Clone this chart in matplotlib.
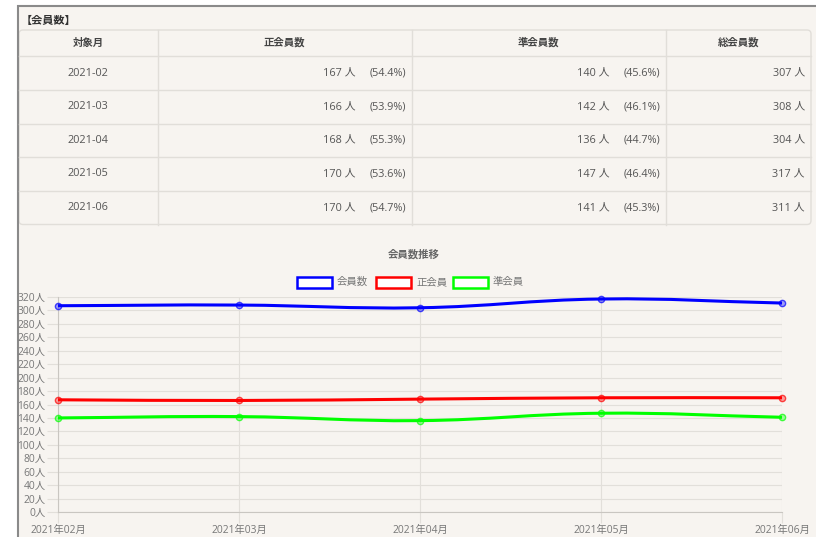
import numpy as np
import matplotlib
matplotlib.use("Agg")
import matplotlib.pyplot as plt
from matplotlib.patches import Rectangle, FancyBboxPatch, PathPatch
from matplotlib.path import Path

plt.rcParams['font.family'] = ['Open Sans', 'Noto Sans CJK JP', 'DejaVu Sans']

# ---- data ----
months = ["2021-02", "2021-03", "2021-04", "2021-05", "2021-06"]
regular = [167, 166, 168, 170, 170]
regular_pct = [54.4, 53.9, 55.3, 53.6, 54.7]
associate = [140, 142, 136, 147, 141]
associate_pct = [45.6, 46.1, 44.7, 46.4, 45.3]
total = [307, 308, 304, 317, 311]

headers = ["対象月", "正会員数", "準会員数", "総会員数"]
series_names = ["会員数", "正会員", "準会員"]
series_colors = ["#0000ff", "#ff0000", "#00ff00"]
y_ticks = list(range(0, 321, 20))

PANEL = "#f7f4f0"
LINE = "#e1ded9"
W, H = 816, 537


def smooth_path(ax, xs, ys, tension=0.4):
    # chart.js style bezier spline, computed in pixel space
    pts = ax.transData.transform(np.column_stack([xs, ys]))
    n = len(pts)
    cin, cout = [], []
    for i in range(n):
        p0 = pts[max(i - 1, 0)]
        p1 = pts[i]
        p2 = pts[min(i + 1, n - 1)]
        d01 = np.hypot(*(p1 - p0))
        d12 = np.hypot(*(p2 - p1))
        s01 = d01 / (d01 + d12)
        s12 = d12 / (d01 + d12)
        cin.append(p1 - tension * s01 * (p2 - p0))
        cout.append(p1 + tension * s12 * (p2 - p0))
    verts = [pts[0]]
    codes = [Path.MOVETO]
    for i in range(n - 1):
        verts += [cout[i], cin[i + 1], pts[i + 1]]
        codes += [Path.CURVE4] * 3
    inv = ax.transData.inverted()
    return Path(inv.transform(np.array(verts)), codes)


fig = plt.figure(figsize=(W / 100, H / 100), dpi=100)
fig.patch.set_facecolor("white")

bg = fig.add_axes([0, 0, 1, 1])
bg.set_xlim(0, W)
bg.set_ylim(H, 0)
bg.axis("off")

# panel
bg.add_patch(Rectangle((17, 5), W - 17, H - 5, fc=PANEL, ec="none"))
bg.plot([17.5, 17.5], [5, H], color="#8a8a8a", lw=1.5, solid_capstyle="butt")
bg.plot([17, W], [5.5, 5.5], color="#8a8a8a", lw=1.5, solid_capstyle="butt")

bg.text(21, 21, "【会員数】", fontsize=8, fontweight="bold", color="#333333",
        ha="left", va="center")

# table
row_edges = [30, 56, 90, 123.5, 157, 191, 224.5]
col_edges = [19, 157.5, 411.5, 665.5, 811]
bg.add_patch(FancyBboxPatch((col_edges[0], row_edges[0]),
                            col_edges[-1] - col_edges[0], row_edges[-1] - row_edges[0],
                            boxstyle="round,pad=0,rounding_size=4",
                            fc="none", ec=LINE, lw=1.0))
for y in row_edges[1:-1]:
    bg.plot([col_edges[0], col_edges[-1]], [y, y], color=LINE, lw=1.0)
for x in col_edges[1:-1]:
    bg.plot([x, x], [row_edges[0], row_edges[-1]], color=LINE, lw=1.0)

hy = (row_edges[0] + row_edges[1]) / 2
for j, h in enumerate(headers):
    cx = (col_edges[j] + col_edges[j + 1]) / 2
    bg.text(cx, hy, h, fontsize=7.5, fontweight="bold", color="#444444",
            ha="center", va="center")

txt = dict(fontsize=7.8, color="#555555", va="center")
for i, m in enumerate(months):
    cy = (row_edges[i + 1] + row_edges[i + 2]) / 2
    bg.text((col_edges[0] + col_edges[1]) / 2, cy, m, ha="center", **txt)
    for j, (cnt, pct) in enumerate([(regular[i], regular_pct[i]),
                                    (associate[i], associate_pct[i])]):
        xr = col_edges[j + 2]
        bg.text(xr - 56, cy, f"{cnt} 人", ha="right", **txt)
        bg.text(xr - 5, cy, f"({pct:.1f}%)", ha="right", **txt)
    bg.text(col_edges[4] - 6, cy, f"{total[i]} 人", ha="right", **txt)

# chart title + legend
bg.text(414, 255, "会員数推移", fontsize=7.5, fontweight="bold", color="#666666",
        ha="center", va="center")
legend_x = [297, 376, 453]
for lx, name, c in zip(legend_x, series_names, series_colors):
    bg.add_patch(Rectangle((lx, 277), 35, 10.5, fc="white", ec=c, lw=1.8))
    bg.text(lx + 40, 282.5, name, fontsize=7.5, color="#777777", ha="left", va="center")

# line chart
ax = fig.add_axes([58 / W, (H - 512) / H, 724 / W, 215 / H])
ax.set_facecolor("none")
x = np.arange(len(months))
ax.set_xlim(0, len(months) - 1)
ax.set_ylim(0, 320)
ax.set_yticks(y_ticks)
ax.set_yticklabels([f"{v}人" for v in y_ticks])
ax.set_xticks(x)
ax.set_xticklabels([m.replace("-", "年") + "月" for m in months])
ax.grid(True, color="#e2dfda", lw=0.8)
ax.set_axisbelow(True)
ax.tick_params(length=8, width=0.8, color="#e2dfda", labelcolor="#777777",
               labelsize=7.4, pad=1)
for s in ["top", "right"]:
    ax.spines[s].set_visible(False)
for s in ["left", "bottom"]:
    ax.spines[s].set_color("#c9c6c1")
    ax.spines[s].set_linewidth(0.8)

for vals, c in zip([total, regular, associate], series_colors):
    path = smooth_path(ax, x, vals)
    ax.add_patch(PathPatch(path, fc="none", ec=c, lw=2.2, clip_on=False, zorder=3))
    ax.plot(x, vals, "o", ms=4.5, mfc=matplotlib.colors.to_rgba(c, 0.35),
            mec=matplotlib.colors.to_rgba(c, 0.7), mew=1.0, clip_on=False, zorder=4)

fig.savefig("out.png", dpi=100)
